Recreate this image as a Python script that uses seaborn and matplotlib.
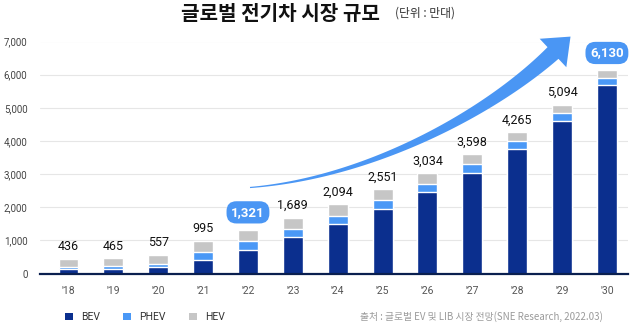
import numpy as np
import pandas as pd
import matplotlib
matplotlib.use("Agg")
import matplotlib.pyplot as plt
import seaborn as sns
from matplotlib.patches import Polygon, Patch

years = ["'18", "'19", "'20", "'21", "'22", "'23", "'24", "'25", "'26", "'27", "'28", "'29", "'30"]
totals = [436, 465, 557, 995, 1321, 1689, 2094, 2551, 3034, 3598, 4265, 5094, 6130]
bev = [140, 150, 200, 420, 720, 1090, 1480, 1960, 2450, 3030, 3750, 4614, 5680]
phev = [60, 70, 100, 220, 260, 240, 240, 260, 260, 270, 240, 232, 210]
total_labels = ["436", "465", "557", "995", "1,321", "1,689", "2,094", "2,551", "3,034",
                "3,598", "4,265", "5,094", "6,130"]
highlight = ["'22", "'30"]
yticks = [0, 1000, 2000, 3000, 4000, 5000, 6000, 7000]

C_BEV = "#0b2f8e"
C_PHEV = "#4a98f6"
C_HEV = "#c6c6c6"
C_ARROW = "#4a96f4"

sns.set_theme(style="white")
plt.rcParams["font.family"] = ["Roboto", "Noto Sans CJK KR", "DejaVu Sans"]

df = pd.DataFrame({"year": years, "total": totals, "bev": bev, "phev": phev})
df["bev_phev"] = df["bev"] + df["phev"]

W, H = 643, 325
fig = plt.figure(figsize=(W / 100, H / 100), dpi=100)
ax = fig.add_axes([40 / W, 1 - 273.5 / H, (628 - 40) / W, (273.5 - 41.5) / H])

bw = 0.445
sns.barplot(data=df, x="year", y="total", color=C_HEV, width=bw, saturation=1, ax=ax, zorder=3)
sns.barplot(data=df, x="year", y="bev_phev", color=C_PHEV, width=bw, saturation=1, ax=ax, zorder=3)
sns.barplot(data=df, x="year", y="bev", color=C_BEV, width=bw, saturation=1, ax=ax, zorder=3)

ax.set_xlim(-0.635, 12.47)
ax.set_ylim(0, 7000)
ax.set_yticks(yticks)
ax.set_yticklabels([f"{v:,}" for v in yticks], fontsize=7, color="#444444")
ax.tick_params(axis="y", length=0, pad=9)
ax.tick_params(axis="x", length=0, pad=9, labelsize=7.5, labelcolor="#555555")
ax.set_xlabel("")
ax.set_ylabel("")
ax.grid(axis="y", color="#e6e6e6", linewidth=0.8, zorder=0)
ax.set_axisbelow(True)
for s in ["top", "right", "left"]:
    ax.spines[s].set_visible(False)
ax.spines["bottom"].set_color("#0a1f4f")
ax.spines["bottom"].set_linewidth(1.6)
ax.spines["bottom"].set_zorder(5)

for i, (y, t, lab) in enumerate(zip(years, totals, total_labels)):
    if y in highlight:
        ax.annotate(lab, (i, t), xytext=(0, 12.5), textcoords="offset points",
                    ha="center", va="center", fontsize=9.5, fontweight="bold",
                    color="white", zorder=6, annotation_clip=False,
                    bbox=dict(boxstyle="round,pad=0.35,rounding_size=0.75",
                              fc=C_ARROW, ec="none"))
    else:
        ax.annotate(lab, (i, t), xytext=(0, 4), textcoords="offset points",
                    ha="center", va="bottom", fontsize=9, color="#111111", zorder=6)

# decorative growth arrow (pixel coordinates, y downwards)
P0 = np.array([250, 187.5]); P1 = np.array([370, 178.0])
P2 = np.array([490, 112.0]); P3 = np.array([553, 53.0])
ts = np.linspace(0, 1, 80)
pts = ((1 - ts)[:, None] ** 3 * P0 + 3 * ((1 - ts) ** 2 * ts)[:, None] * P1
       + 3 * ((1 - ts) * ts ** 2)[:, None] * P2 + (ts ** 3)[:, None] * P3)
der = (3 * ((1 - ts) ** 2)[:, None] * (P1 - P0) + 6 * ((1 - ts) * ts)[:, None] * (P2 - P1)
       + 3 * (ts ** 2)[:, None] * (P3 - P2))
tang = der / np.linalg.norm(der, axis=1)[:, None]
nrm = np.column_stack([-tang[:, 1], tang[:, 0]])
hw = 0.6 + 7.4 * ts ** 1.3
upper = pts + nrm * hw[:, None]
lower = pts - nrm * hw[:, None]
d = tang[-1]; n = nrm[-1]
tip = P3 + 24 * d
c1 = P3 + 19.5 * n
c2 = P3 - 19.5 * n
poly = np.vstack([upper, c1, tip, c2, lower[::-1]])
poly_fig = np.column_stack([poly[:, 0] / W, 1 - poly[:, 1] / H])
fig.patches.append(Polygon(poly_fig, closed=True, transform=fig.transFigure,
                           fc=C_ARROW, ec="none", zorder=4))

# title
fig.text(280 / W, 1 - 13 / H, "글로벌 전기차 시장 규모", ha="center", va="center",
         fontsize=14.5, fontweight=900, family=["Noto Sans CJK KR", "DejaVu Sans"],
         color="#111111")
fig.text(395 / W, 1 - 13.5 / H, "(단위 : 만대)", ha="left", va="center", fontsize=8.5,
         family=["Noto Sans CJK KR", "DejaVu Sans"], color="#333333")

# legend
handles = [Patch(fc=C_BEV, ec="none"), Patch(fc=C_PHEV, ec="none"), Patch(fc=C_HEV, ec="none")]
fig.legend(handles, ["BEV", "PHEV", "HEV"], loc="center left",
           bbox_to_anchor=(56 / W, 1 - 317 / H), ncol=3, frameon=False,
           handlelength=0.75, handleheight=0.75, handletextpad=0.8, columnspacing=2.2,
           prop={"family": "Roboto", "size": 7.5}, labelcolor="#333333")

fig.text(603 / W, 1 - 317 / H, "출처 : 글로벌 EV 및 LIB 시장 전망(SNE Research, 2022.03)",
         ha="right", va="center", fontsize=7, family=["Noto Sans CJK KR", "DejaVu Sans"],
         color="#9a9a9a")

fig.savefig("out.png", dpi=100)
